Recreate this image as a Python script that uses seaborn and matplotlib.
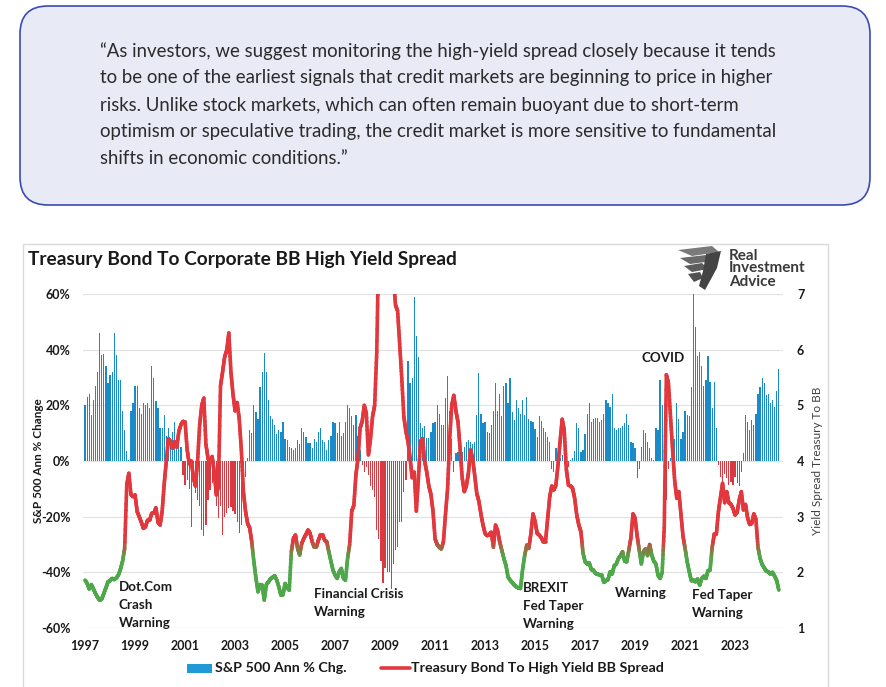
import numpy as np
import pandas as pd
import matplotlib
matplotlib.use("Agg")
import matplotlib.pyplot as plt
import seaborn as sns
from matplotlib.collections import LineCollection
from matplotlib.patches import FancyBboxPatch, Rectangle, Polygon
from matplotlib.lines import Line2D
from matplotlib.colors import to_rgb

# ---------------- data (monthly, Jan 1997 - Oct 2024) ----------------
sp500_ann_chg = [
    20, 23, 24, 16.5, 22, 27, 32, 46, 38, 38.5, 34, 28,            # 1997
    31, 32, 46, 38, 29, 29, 18, 11, 3.7, 0.5, 18, 21,              # 1998
    27, 27, 19, 17, 21, 20, 21, 19, 34, 30, 21.5, 19,              # 1999
    12, 12, 16.5, 9, 12, 7, 10.5, 14, 8, 6, 5, -5,                 # 2000
    -8.6, -7, -10, -23.6, -9, -11.6, -14, -16, -24.8, -27, -23, -14,   # 2001
    -10.4, -8, -11.6, -16, -20.6, -16, -26.6, -20, -18.8, -17, -16.4, -18,  # 2002
    -19, -22, -26, -23, -16, -5.6, 1, 11, 10, 20, 17.7, 15,        # 2003
    26.7, 31.8, 38.7, 31.8, 22, 16, 15, 13, 9.6, 11, 10.5, 14,     # 2004
    8, 7.5, 5, 4.6, 4, 4.5, 7.5, 6, 11.7, 10.5, 8.7, 6.3,          # 2005
    6.3, 4.5, 8, 7, 10.5, 12, 7.5, 7, 4, 7.5, 9, 14,               # 2006
    13.5, 10, 14, 9, 10, 14, 20, 19, 16, 13, 16.5, 9,              # 2007
    4, -1.4, -3.8, -2, -5, -9, -10.4, -13, -24.8, -28, -36, -44,   # 2008
    -38.6, -40, -40, -46, -37, -32, -31, -22, -21.8, -11, -7, 36,  # 2009
    28, 30, 59, 45, 37.5, 13.5, 11.7, 12.6, 8.1, 8.4, 10.5, 13.5,  # 2010
    14, 20, 17, 13, 13, 22.5, 30.6, 18, 8, -4, 2.8, 3.4,           # 2011
    2, 3.4, 5, 7, 7.5, 7, 6, 7, 16.5, 31.5, 17, 13.5,              # 2012
    14, 10.5, 10, 13, 18, 28, 18, 24, 16, 27, 28, 20.7,            # 2013
    29.7, 17.7, 14.7, 22, 19, 17, 22, 16.5, 23, 15, 14.5, 14,      # 2014
    11.5, 8.7, 16, 14.5, 12, 10.5, 8.7, 7, -3, -4, 4.5, 2.4,       # 2015
    1.2, 2, -1, -0.5, -2, 0.4, 1, 3.6, 13.5, 12, 3.4, 4,           # 2016
    9.7, 17, 21, 14, 15, 15.6, 15.6, 14, 14.6, 17, 22, 20.7,       # 2017
    19.5, 24, 11.7, 11, 12, 12, 12.7, 13.8, 17, 13, 6.7, 6.3,      # 2018
    4.5, -6, -3, 5, 11, 10, 6.7, 4.5, 1, 0.4, 12, 11,              # 2019
    29, 20, 16, -14, -3, 1, 12, 8, 20.7, 15, 8, 10.5,              # 2020
    18, 16.5, 16, 26.7, 60, 48, 37.8, 39, 34, 27, 29, 37.6,        # 2021
    28.5, 19, 28.5, 12, -1.4, -5.6, -8.6, -4.8, -6.2, -8.6, -7.4, -8.6,  # 2022
    -5.6, -8, -9, -4, 2.8, 16.5, 14, 11, 14.7, 13, 17, 24,         # 2023
    26.7, 30, 28, 23.7, 24, 20.7, 22, 19.5, 25, 33,                # 2024
]

bb_spread = [
    1.86, 1.80, 1.70, 1.78, 1.70, 1.62, 1.55, 1.50, 1.52, 1.62, 1.72, 1.83,   # 1997
    1.85, 1.89, 1.87, 1.90, 1.95, 2.06, 2.20, 2.43, 3.57, 3.78, 3.40, 3.36,   # 1998
    3.39, 3.09, 3.00, 2.90, 2.79, 2.82, 2.94, 2.94, 3.06, 3.06, 3.16, 2.90,   # 1999
    2.85, 3.10, 3.60, 4.00, 4.40, 4.35, 4.23, 4.35, 4.25, 4.53, 4.65, 4.71,   # 2000
    4.70, 4.20, 3.95, 4.00, 3.70, 3.55, 4.00, 4.65, 5.00, 5.13, 4.30, 4.05,   # 2001
    3.99, 4.08, 3.80, 3.39, 3.55, 5.35, 5.60, 5.87, 5.99, 6.30, 5.60, 5.20,   # 2002
    4.90, 5.05, 4.75, 4.20, 3.45, 3.10, 2.88, 2.80, 2.55, 2.20, 1.90, 1.65,   # 2003
    1.78, 1.77, 1.50, 1.78, 1.83, 1.88, 1.91, 1.94, 1.86, 1.74, 1.59, 1.60,   # 2004
    1.80, 1.72, 1.68, 2.37, 2.61, 2.67, 2.43, 2.31, 2.52, 2.61, 2.68, 2.76,   # 2005
    2.70, 2.55, 2.45, 2.45, 2.58, 2.67, 2.67, 2.58, 2.55, 2.37, 2.20, 2.04,   # 2006
    1.95, 1.89, 2.01, 2.07, 1.89, 1.86, 2.25, 2.50, 3.10, 3.20, 3.75, 4.05,   # 2007
    4.59, 4.71, 5.00, 4.85, 4.11, 4.40, 4.80, 5.00, 5.96, 8.00, 9.00, 9.80,   # 2008
    10.2, 10.0, 9.50, 8.50, 7.30, 6.80, 6.70, 6.10, 5.49, 4.80, 4.53, 4.35,   # 2009
    4.05, 3.70, 3.80, 3.10, 3.69, 4.35, 4.40, 4.00, 3.80, 3.55, 3.40, 3.10,   # 2010
    2.60, 2.50, 2.45, 2.42, 2.55, 3.05, 3.50, 4.40, 5.00, 5.18, 4.90, 4.70,   # 2011
    4.23, 3.70, 3.45, 3.55, 3.78, 4.20, 4.05, 3.75, 3.42, 3.28, 3.05, 2.85,   # 2012
    2.70, 2.66, 2.68, 2.72, 2.45, 2.85, 2.75, 2.55, 2.40, 2.25, 2.13, 1.92,   # 2013
    1.86, 1.82, 1.77, 1.74, 1.72, 1.71, 2.05, 2.30, 2.49, 2.43, 2.70, 3.05,   # 2014
    2.91, 2.70, 2.67, 2.62, 2.55, 2.55, 2.95, 3.35, 3.55, 3.48, 3.57, 3.93,   # 2015
    4.35, 4.75, 4.55, 3.85, 3.57, 3.55, 3.51, 3.33, 3.03, 2.85, 2.73, 2.35,   # 2016
    2.19, 2.15, 2.17, 2.05, 2.04, 1.98, 1.97, 1.95, 1.95, 1.82, 1.85, 1.87,   # 2017
    2.01, 1.97, 2.12, 2.15, 2.25, 2.30, 2.37, 2.20, 2.19, 2.40, 2.62, 3.05,   # 2018
    2.97, 2.65, 2.40, 2.15, 2.37, 2.42, 2.30, 2.50, 2.31, 2.20, 2.15, 1.95,   # 2019
    1.89, 2.00, 2.80, 5.55, 5.40, 4.80, 4.20, 3.65, 3.33, 3.45, 3.05, 2.65,   # 2020
    2.43, 2.19, 2.01, 1.85, 1.86, 1.83, 1.88, 1.77, 1.89, 1.93, 1.89, 2.03,   # 2021
    2.04, 2.45, 2.68, 2.68, 3.09, 3.35, 3.60, 3.25, 3.45, 3.25, 3.22, 3.15,   # 2022
    3.03, 3.08, 3.30, 3.45, 3.12, 3.22, 2.98, 2.86, 2.88, 3.05, 2.95, 2.45,   # 2023
    2.25, 2.14, 2.08, 2.02, 2.01, 1.97, 2.00, 1.93, 1.85, 1.68,               # 2024
]

year_labels = [str(y) for y in range(1997, 2024, 2)]
left_ticks = [-60, -40, -20, 0, 20, 40, 60]
right_ticks = [1, 2, 3, 4, 5, 6, 7]

quote_lines = [
    "\u201cAs investors, we suggest monitoring the high-yield spread closely because it tends",
    "to be one of the earliest signals that credit markets are beginning to price in higher",
    "risks. Unlike stock markets, which can often remain buoyant due to short-term",
    "optimism or speculative trading, the credit market is more sensitive to fundamental",
    "shifts in economic conditions.\u201d",
]
title = "Treasury Bond To Corporate BB High Yield Spread"
bar_label = "S&P 500 Ann % Chg."
line_label = "Treasury Bond To High Yield BB Spread"
annotations = [
    (["Dot.Com", "Crash", "Warning"], 119, [587, 605, 623]),
    (["Financial Crisis", "Warning"], 314, [594, 612]),
    (["BREXIT", "Fed Taper", "Warning"], 523, [588, 606, 624]),
    (["Warning"], 615, [593]),
    (["Fed Taper", "Warning"], 692, [595, 613]),
    (["COVID"], 642, [358]),
]

# ---------------- style ----------------
BLUE = "#1a8bc8"
RED_BAR = "#d93a41"
RED = "#e2373d"
GREEN = "#4ea84a"
TXT = "#1a1a1a"

sns.set_style("white")
plt.rcParams["font.family"] = ["Lato", "DejaVu Sans"]

W, H = 887, 687
fig = plt.figure(figsize=(W / 100, H / 100), dpi=100)
fig.patch.set_facecolor("white")

# background axes in pixel coordinates
bg = fig.add_axes([0, 0, 1, 1])
bg.set_xlim(0, W)
bg.set_ylim(H, 0)
bg.axis("off")

bg.add_patch(FancyBboxPatch((20, 6), 850, 199,
                            boxstyle="round,pad=0,rounding_size=28",
                            fc="#e8eaf6", ec="#3a4bb3", lw=1.2))
for i, line in enumerate(quote_lines):
    bg.text(100, 51 + 27 * i, line, fontsize=13.4, color="#2b2b2b",
            va="center", ha="left")

bg.add_patch(Rectangle((23, 244), 805, 470, fc="white", ec="#dadada", lw=1))
bg.text(28, 260, title, fontsize=13.8, fontweight="bold", color=TXT,
        va="center", ha="left")

# logo
feathers = [
    ([(678, 250), (712, 246), (719, 252), (692, 256)], "#7a7a7a"),
    ([(680, 258), (706, 255), (713, 261), (690, 264)], "#6a6a6a"),
    ([(684, 266), (702, 263), (708, 269), (692, 272)], "#5c5c5c"),
    ([(688, 274), (700, 272), (703, 278), (694, 282)], "#505050"),
    ([(706, 254), (721, 251), (717, 268), (705, 290), (699, 286), (703, 271)], "#444444"),
]
for pts, c in feathers:
    bg.add_patch(Polygon(pts, closed=True, fc=c, ec="none"))
for txt, yy in zip(["Real", "Investment", "Advice"], [256, 268.5, 282]):
    bg.text(729, yy, txt, fontsize=11, fontweight="bold", color="#3a3a3a",
            va="center", ha="left")

# ---------------- chart ----------------
n = len(sp500_ann_chg)
months = np.arange(n)
df = pd.DataFrame({"month": months, "chg": sp500_ann_chg})
pos = df[df["chg"] >= 0]
neg = df[df["chg"] < 0]

ax = fig.add_axes([83 / W, 1 - 628 / H, 700 / W, 334 / H])
ax.set_facecolor("none")
for part, col in ((pos, BLUE), (neg, RED_BAR)):
    sns.barplot(data=part, x="month", y="chg", color=col, native_scale=True,
                width=0.6, errorbar=None, saturation=1, ax=ax)
for p in ax.patches:
    p.set_edgecolor("none")
    p.set_linewidth(0)
    p.set_antialiased(False)

ax.set_xlim(-1, 335)
ax.set_ylim(-60, 60)
ax.set_yticks(left_ticks)
ax.set_yticklabels([f"{v}%" for v in left_ticks], fontweight="bold", fontsize=9, color=TXT)
ax.set_xticks(np.arange(len(year_labels)) * 24)
ax.set_xticklabels(year_labels, fontweight="bold", fontsize=9, color=TXT)
ax.tick_params(axis="both", length=0)
ax.tick_params(axis="y", pad=9)
ax.tick_params(axis="x", pad=9)
ax.set_xlabel("")
ax.yaxis.grid(True, color="#e2e2e2", lw=0.9)
ax.set_axisbelow(True)
for s in ax.spines.values():
    s.set_visible(False)
ax.set_ylabel("S&P 500 Ann % Change", fontweight="bold", fontsize=8.5, color=TXT)
ax.yaxis.set_label_coords((44 - 83) / 700, 0.5)

ax2 = ax.twinx()
ax2.set_ylim(1, 7)
ax2.set_yticks(right_ticks)
ax2.set_yticklabels([str(v) for v in right_ticks], fontweight="bold", fontsize=9, color=TXT)
ax2.tick_params(axis="y", length=0, pad=10)
for s in ax2.spines.values():
    s.set_visible(False)
ax2.set_ylabel("Yield Spread Treasury To BB", fontsize=8.5, color="#404040")
ax2.yaxis.set_label_coords((812 - 83) / 700, 0.5)

# gradient line: green when spread is low, red when high
sp = np.asarray(bb_spread, dtype=float)
red_rgb, green_rgb = np.array(to_rgb(RED)), np.array(to_rgb(GREEN))
segs, cols = [], []
sub = 10
for i in range(n - 1):
    t = np.linspace(0, 1, sub + 1)
    xs = months[i] + t
    ys = sp[i] + (sp[i + 1] - sp[i]) * t
    for k in range(sub):
        segs.append([(xs[k], ys[k]), (xs[k + 1], ys[k + 1])])
        v = 0.5 * (ys[k] + ys[k + 1])
        f = np.clip((v - 2.28) / 0.3, 0, 1)
        cols.append(green_rgb * (1 - f) + red_rgb * f)
lc = LineCollection(segs, colors=cols, linewidths=2.6, capstyle="round", joinstyle="round")
ax2.add_collection(lc)

# annotations
for lines, x0, ys in annotations:
    for txt, yy in zip(lines, ys):
        bg.text(x0, yy, txt, fontsize=9.6, fontweight="bold", color=TXT,
                va="center", ha="left", zorder=5)

# legend (manual)
bg.add_patch(Rectangle((187, 663.5), 25, 9, fc="#1e9ad6", ec="none"))
bg.text(215, 668, bar_label, fontsize=10.3, fontweight="bold", color=TXT, va="center", ha="left")
bg.add_line(Line2D([381, 410], [668, 668], color=RED, lw=2.6))
bg.text(411, 668, line_label, fontsize=10.3, fontweight="bold", color=TXT, va="center", ha="left")

fig.savefig("out.png", dpi=100)
